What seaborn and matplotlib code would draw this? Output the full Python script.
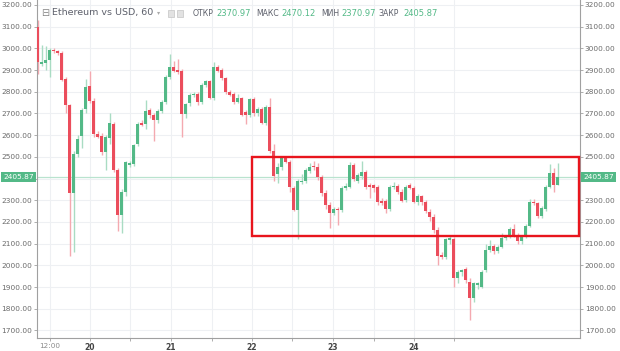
import matplotlib
matplotlib.use("Agg")
import matplotlib.pyplot as plt
import matplotlib.transforms as mtransforms
from matplotlib.patches import Rectangle
import seaborn as sns
import numpy as np
import pandas as pd

# hourly ETH/USD candles
opens = [3100, 2928, 2932, 2946, 2993, 2986, 2981, 2858, 2737, 2332,
         2512, 2596, 2720, 2828, 2756, 2604, 2596, 2524, 2589, 2653,
         2440, 2230, 2340, 2464, 2468, 2558, 2657, 2650, 2718, 2692,
         2668, 2712, 2752, 2870, 2912, 2900, 2897, 2698, 2748, 2784,
         2790, 2755, 2830, 2848, 2770, 2915, 2900, 2862, 2800, 2792,
         2755, 2770, 2705, 2695, 2765, 2700, 2720, 2655, 2730, 2525,
         2420, 2455, 2500, 2478, 2355, 2255, 2382, 2390, 2435, 2458,
         2455, 2405, 2332, 2278, 2240, 2260, 2255, 2355, 2363, 2463,
         2390, 2410, 2432, 2368, 2368, 2362, 2298, 2298, 2258, 2360,
         2366, 2340, 2300, 2370, 2355, 2294, 2318, 2290, 2245, 2225,
         2165, 2048, 2040, 2118, 2120, 1941, 1971, 1982, 1925, 1848,
         1910, 1902, 1979, 2071, 2090, 2065, 2086, 2125, 2133, 2166,
         2140, 2110, 2133, 2182, 2294, 2286, 2228, 2259, 2363, 2424,
         2371]
highs = [3130, 3015, 3010, 3003, 3000, 2992, 2990, 2870, 2745, 2525,
         2600, 2725, 2860, 2895, 2770, 2620, 2610, 2600, 2700, 2660,
         2450, 2350, 2480, 2480, 2560, 2660, 2670, 2760, 2725, 2700,
         2720, 2760, 2875, 2975, 2940, 2950, 2905, 2750, 2795, 2800,
         2800, 2840, 2855, 2855, 2935, 2925, 2910, 2870, 2810, 2800,
         2790, 2775, 2715, 2770, 2775, 2730, 2730, 2740, 2770, 2560,
         2470, 2505, 2505, 2485, 2365, 2400, 2420, 2450, 2470, 2480,
         2470, 2415, 2345, 2290, 2270, 2270, 2365, 2380, 2475, 2470,
         2425, 2480, 2440, 2380, 2375, 2370, 2310, 2305, 2370, 2385,
         2375, 2350, 2370, 2380, 2365, 2330, 2325, 2300, 2260, 2235,
         2175, 2060, 2125, 2140, 2130, 1980, 1985, 1990, 1940, 1925,
         1925, 1980, 2100, 2115, 2100, 2095, 2150, 2140, 2175, 2190,
         2150, 2140, 2190, 2305, 2305, 2290, 2275, 2370, 2465, 2450,
         2470]
lows = [2880, 2920, 2900, 2870, 2978, 2970, 2850, 2700, 2045, 2060,
        2500, 2540, 2700, 2750, 2590, 2585, 2510, 2440, 2560, 2430,
        2160, 2150, 2320, 2455, 2460, 2550, 2640, 2630, 2680, 2575,
        2655, 2700, 2745, 2860, 2890, 2880, 2590, 2680, 2735, 2775,
        2740, 2745, 2820, 2765, 2760, 2890, 2855, 2790, 2780, 2745,
        2750, 2690, 2650, 2685, 2690, 2690, 2650, 2645, 2520, 2390,
        2380, 2440, 2470, 2340, 2250, 2120, 2375, 2380, 2425, 2440,
        2395, 2320, 2260, 2170, 2230, 2185, 2245, 2345, 2355, 2390,
        2380, 2400, 2350, 2310, 2340, 2280, 2280, 2240, 2250, 2350,
        2330, 2290, 2290, 2350, 2285, 2280, 2280, 2240, 2205, 2150,
        2000, 2030, 2030, 2100, 1900, 1920, 1950, 1920, 1750, 1830,
        1890, 1895, 1970, 2060, 2050, 2055, 2080, 2115, 2125, 2130,
        2100, 2100, 2125, 2175, 2280, 2220, 2220, 2250, 2355, 2340,
        2371]
closes = [2935, 2937, 2946, 2992, 2986, 2979, 2856, 2738, 2332, 2515,
          2580, 2714, 2820, 2756, 2604, 2592, 2524, 2590, 2657, 2440,
          2230, 2340, 2474, 2470, 2555, 2653, 2648, 2710, 2692, 2668,
          2712, 2752, 2870, 2912, 2896, 2892, 2698, 2744, 2785, 2790,
          2755, 2830, 2848, 2770, 2915, 2895, 2862, 2800, 2787, 2755,
          2770, 2695, 2693, 2765, 2700, 2720, 2655, 2730, 2525, 2410,
          2455, 2500, 2478, 2363, 2255, 2390, 2390, 2440, 2455, 2452,
          2405, 2332, 2278, 2240, 2258, 2253, 2355, 2366, 2463, 2400,
          2415, 2432, 2363, 2360, 2358, 2290, 2289, 2258, 2360, 2366,
          2340, 2298, 2360, 2358, 2294, 2318, 2290, 2250, 2225, 2165,
          2045, 2040, 2120, 2125, 1941, 1971, 1979, 1933, 1848, 1918,
          1918, 1971, 2071, 2090, 2065, 2085, 2125, 2133, 2166, 2140,
          2110, 2133, 2182, 2294, 2286, 2228, 2263, 2363, 2424, 2371,
          2406]

# time axis (candle index units)
tick_pos = [3.1, 13.1, 33.3, 53.6, 73.8, 94.1]
tick_labels = ["12:00", "20", "21", "22", "23", "24"]
minor_pos = [23.2, 43.5, 63.7, 84.0, 104.2]
price_ticks = list(range(1700, 3300, 100))

last_price = 2405.87
header_names = ["ОТКР", "МАКС", "МИН", "ЗАКР"]
header_values = ["2370.97", "2470.12", "2370.97", "2405.87"]

# highlighted range
box_left, box_right = 53.5, 135.3
box_bottom, box_top = 2137, 2500

UP = "#53b987"
DOWN = "#eb4d5c"
UP_WICK = "#a9dcc3"
DOWN_WICK = "#f4a9b0"
GRID = "#eef0f3"
AXIS = "#a0a0a0"
TEXT = "#5d606b"

df = pd.DataFrame({"open": opens, "high": highs, "low": lows, "close": closes})
df["t"] = np.arange(len(df))
df["up"] = df["close"] >= df["open"]
df["body_lo"] = df[["open", "close"]].min(axis=1)
df["body_h"] = (df["close"] - df["open"]).abs().clip(lower=5)

sns.set_theme(style="white")
plt.rcParams["font.family"] = ["DejaVu Sans"]

fig = plt.figure(figsize=(6.2, 3.51), dpi=100)
ax = fig.add_axes([37 / 620, 13 / 351, 543 / 620, 338 / 351])

# wicks then bodies
ax.vlines(df["t"], df["low"], df["high"],
          colors=np.where(df["up"], UP_WICK, DOWN_WICK), lw=1, zorder=2)
ax.bar(df["t"], df["body_h"], bottom=df["body_lo"], width=0.72,
       color=np.where(df["up"], UP, DOWN), lw=0, zorder=3)

ax.axhline(last_price, color="#b9e3cf", lw=0.9, zorder=1)

ax.add_patch(Rectangle((box_left, box_bottom), box_right - box_left,
                       box_top - box_bottom, fill=False, ec="#e8151d",
                       lw=1.7, zorder=5, clip_on=False))

ax.set_xlim(-0.18, 135.6)
ax.set_ylim(1665, 3223)

# the 2400 label sits under the last-price tag, as on the screen
ax.set_yticks(price_ticks)
ax.set_yticklabels(["" if p == 2400 else "%.2f" % p for p in price_ticks])
ax.set_xticks(tick_pos)
ax.set_xticklabels(tick_labels)
ax.set_xticks(minor_pos, minor=True)
ax.grid(True, which="both", color=GRID, lw=0.8, zorder=0)
ax.set_axisbelow(True)

ax.tick_params(axis="y", left=True, right=True, labelleft=True, labelright=True,
               labelsize=5.3, length=2, width=0.6, pad=1.5, colors=AXIS,
               labelcolor="#6b6b6b")
ax.tick_params(axis="x", which="both", bottom=True, length=2.5, width=0.6,
               colors=AXIS, labelsize=5.5, pad=1.2, labelcolor="#444444")
for lab in ax.get_xticklabels():
    if lab.get_text() == "12:00":
        lab.set_color("#8a8a8a")
        lab.set_fontsize(5.2)
    else:
        lab.set_fontweight("bold")

for side in ["left", "right", "bottom"]:
    ax.spines[side].set_color(AXIS)
    ax.spines[side].set_linewidth(0.8)
ax.spines["top"].set_visible(False)

# last price tags on both scales
trans = mtransforms.blended_transform_factory(ax.transAxes, ax.transData)
ax.text(1.006, last_price, "%.2f" % last_price, transform=trans, ha="left",
        va="center", fontsize=5.3, color="white", zorder=6,
        bbox=dict(boxstyle="square,pad=0.25", fc=UP, ec="none"))
ax.text(-0.006, last_price, "%.2f" % last_price, transform=trans, ha="right",
        va="center", fontsize=5.3, color="white", zorder=6,
        bbox=dict(boxstyle="square,pad=0.25", fc=UP, ec="none"))

# header legend
hy = 1 - 13 / 351
fig.text(41 / 620, hy, "⊟", fontsize=7, color="#888888", ha="left", va="center")
fig.text(52 / 620, hy, "Ethereum vs USD, 60", fontsize=6.8, color=TEXT,
         ha="left", va="center")
fig.text(157 / 620, hy, "▾", fontsize=4.5, color="#aaaaaa", ha="left", va="center")
for sx in [168, 177]:
    fig.add_artist(Rectangle((sx / 620, 1 - 17 / 351), 6 / 620, 7 / 351,
                             transform=fig.transFigure, fc="#e2e2e2",
                             ec="#c4c4c4", lw=0.5))
name_x = [193, 256, 321, 378]
val_x = [216, 281, 341, 403]
for nx, vx, nm, vl in zip(name_x, val_x, header_names, header_values):
    fig.text(nx / 620, hy, nm, fontsize=5.6, color=TEXT, ha="left", va="center")
    fig.text(vx / 620, hy, vl, fontsize=6, color=UP, ha="left", va="center")

fig.savefig("out.png", dpi=100)
